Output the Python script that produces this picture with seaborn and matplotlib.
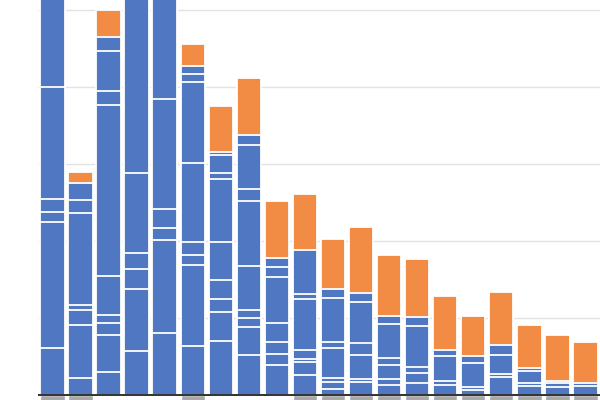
import numpy as np
import pandas as pd
import matplotlib
matplotlib.use("Agg")
import matplotlib.pyplot as plt
import seaborn as sns

categories = [f"C{i+1}" for i in range(20)]

# blue stacked segment heights per bar (bottom to top)
blue_segments = [
    [6.1, 16.4, 1.3, 1.7, 14.5, 16.0],
    [2.2, 6.9, 1.9, 0.7, 11.9, 1.7, 2.2],
    [3.0, 4.8, 1.6, 1.0, 5.1, 22.2, 1.8, 5.2, 1.8],
    [5.7, 8.1, 2.6, 2.0, 10.4, 29.2],
    [8.1, 12.0, 1.6, 2.5, 14.2, 16.6],
    [6.4, 10.5, 1.3, 1.7, 10.2, 10.5, 1.1, 1.0],
    [7.0, 3.8, 1.7, 2.4, 5.0, 8.2, 0.7, 2.4, 0.4],
    [5.2, 3.6, 1.2, 1.0, 5.8, 8.4, 1.6, 5.7, 1.3],
    [3.9, 1.4, 1.6, 2.5, 5.9, 1.3, 1.2],
    [2.6, 1.7, 0.4, 1.1, 6.7, 0.6, 5.7],
    [0.8, 0.9, 0.5, 3.9, 0.8, 5.7, 1.2],
    [1.7, 0.4, 3.1, 1.6, 5.3, 1.1],
    [1.3, 0.8, 1.8, 0.9, 4.4, 1.1],
    [1.6, 1.3, 0.7, 5.4, 1.1],
    [1.3, 0.5, 3.3, 0.7],
    [0.6, 0.4, 3.2, 0.9],
    [2.3, 0.4, 2.5, 1.3],
    [1.2, 0.4, 1.5, 0.4],
    [1.0, 0.6, 0.2],
    [1.2, 0.4],
]

# orange top segment per bar
orange_values = [0.0, 1.5, 3.5, 0.0, 0.0, 2.9, 5.9, 7.4, 7.4, 7.3,
                 6.5, 8.6, 7.9, 7.6, 7.1, 5.2, 6.9, 5.6, 6.0, 5.3]

# small grey marks just below the baseline
grey_values = [-0.8, -0.8, 0, 0, 0, -0.8, 0, 0, 0, -0.8,
               -0.8, -0.8, -0.8, -0.8, -0.8, -0.8, -0.8, -0.8, -0.8, -0.8]

BLUE = "#5078C2"
ORANGE = "#F28C45"
GREY = "#A8A8A8"

# build long table of cumulative levels
rows = []
for cat, segs, orng in zip(categories, blue_segments, orange_values):
    cum = np.cumsum(segs)
    for lvl, c in enumerate(cum):
        rows.append(dict(category=cat, level=lvl, cum=c, kind="blue"))
    if orng > 0:
        rows.append(dict(category=cat, level=99, cum=cum[-1] + orng, kind="orange"))
df = pd.DataFrame(rows)

fig = plt.figure(figsize=(6, 4), dpi=100)
ax = fig.add_axes([38 / 600, 0, 562 / 600, 1])
sns.set_style("white")

for y in [10, 20, 30, 40, 50]:
    ax.axhline(y, color="#E3E3E3", lw=1.0, zorder=0)

bw = 0.87
# orange totals first, then blue cumulative levels from top to bottom
for lvl in sorted(df["level"].unique(), reverse=True):
    sub = df[df["level"] == lvl]
    col = ORANGE if lvl == 99 else BLUE
    sns.barplot(data=sub, x="category", y="cum", order=categories, color=col,
                width=bw, edgecolor="white", linewidth=1.3, saturation=1,
                ax=ax, zorder=2)

gdf = pd.DataFrame({"category": categories, "val": grey_values})
sns.barplot(data=gdf, x="category", y="val", order=categories, color=GREY,
            width=bw, edgecolor="white", linewidth=1.0, saturation=1, ax=ax, zorder=2)

ax.axhline(0, color="#222222", lw=1.3, zorder=5)

ax.set_xlim(-0.517, 19.52)
ax.set_ylim(-0.65, 51.3)
ax.set_xlabel("")
ax.set_ylabel("")
ax.set_xticks([])
ax.set_yticks([])
for s in ax.spines.values():
    s.set_visible(False)

fig.savefig("out.png", dpi=100)
